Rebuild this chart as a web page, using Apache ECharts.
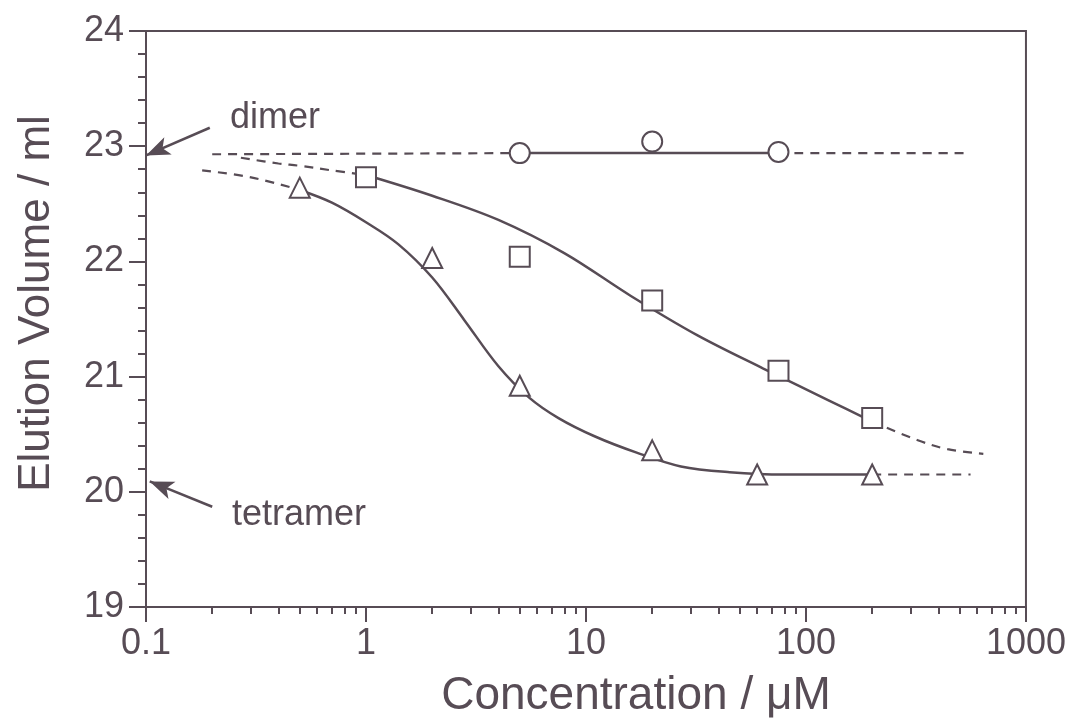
<!DOCTYPE html>
<html>
<head>
<meta charset="utf-8">
<script src="https://cdn.jsdelivr.net/npm/echarts@6/dist/echarts.min.js"></script>
<style>
  html, body { margin: 0; padding: 0; background: #fff; }
  #chart { width: 1069px; height: 724px; }
</style>
</head>
<body>
<div id="chart"></div>
<script>
// measured points (concentration uM, elution volume ml)
const circleX = [5, 20, 75];
const circleY = [22.94, 23.04, 22.95];
const squareX = [1, 5, 20, 75, 200];
const squareY = [22.73, 22.04, 21.66, 21.05, 20.64];
const triangleX = [0.5, 2, 5, 20, 60, 200];
const triangleY = [22.64, 22.03, 20.92, 20.36, 20.15, 20.15];

// fitted curves (solid part)
const circleFitX = [5, 75];
const circleFitY = [22.94, 22.94];
const squareFitX = [1, 2, 4, 8, 16, 32, 64, 128, 200];
const squareFitY = [22.75, 22.57, 22.36, 22.07, 21.70, 21.36, 21.07, 20.79, 20.61];
const triangleFitX = [0.5, 0.7, 1, 1.4, 2, 2.8, 4, 5.5, 7.5, 11, 17, 27, 45, 80, 200];
const triangleFitY = [22.62, 22.51, 22.34, 22.15, 21.86, 21.49, 21.09, 20.82, 20.64, 20.48, 20.34, 20.22, 20.17, 20.15, 20.15];

// extrapolated (dashed) parts
const circleDashLeftX = [0.2, 5];
const circleDashLeftY = [22.93, 22.94];
const circleDashRightX = [75, 550];
const circleDashRightY = [22.94, 22.94];
const squareDashLeftX = [0.27, 0.4, 0.5, 0.7, 1];
const squareDashLeftY = [22.90, 22.85, 22.83, 22.79, 22.75];
const squareDashRightX = [200, 320, 440, 640];
const squareDashRightY = [20.61, 20.45, 20.37, 20.33];
const triangleDashLeftX = [0.18, 0.3, 0.5];
const triangleDashLeftY = [22.79, 22.73, 22.62];
const triangleDashRightX = [200, 560];
const triangleDashRightY = [20.15, 20.15];

// axis ticks
const xMajorTicks = [0.1, 1, 10, 100, 1000];
const xMinorTicks = [];
[0.1, 1, 10, 100].forEach(d => {
  for (let k = 2; k <= 9; k++) xMinorTicks.push(+(d * k).toPrecision(3));
});

const ink = '#574c55';
const font = 'Liberation Sans, Arial, Helvetica, sans-serif';

const pairs = (xs, ys) => xs.map((x, i) => [x, ys[i]]);

const solid = (xs, ys, smooth) => ({
  type: 'line', data: pairs(xs, ys), smooth: smooth ? 0.35 : false,
  showSymbol: false, silent: true, z: 2,
  lineStyle: { color: ink, width: 2.5 }
});
const dashed = (xs, ys) => ({
  type: 'line', data: pairs(xs, ys), smooth: 0.35,
  showSymbol: false, silent: true, z: 2,
  lineStyle: { color: ink, width: 2.2, type: [9, 7] }
});
const points = (xs, ys, symbol) => ({
  type: 'scatter', data: pairs(xs, ys), symbol: symbol, symbolSize: 20, z: 3,
  itemStyle: { color: ink, borderColor: ink, borderWidth: 2, opacity: 1 }
});

const chart = echarts.init(document.getElementById('chart'));

const arrows = {
  type: 'line', data: [], silent: true,
  markLine: {
    silent: true, animation: false,
    symbol: ['none', 'arrow'], symbolSize: [14, 24],
    label: { show: false },
    lineStyle: { color: ink, width: 2.5, type: 'solid' },
    data: [
      [{ coord: [0.195, 23.16] }, { coord: [0.1, 22.92] }],
      [{ coord: [0.2, 19.87] }, { coord: [0.104, 20.09] }]
    ]
  }
};

chart.setOption({
  backgroundColor: '#fff',
  animation: false,
  grid: {
    left: 146, right: 41, top: 31, bottom: 116,
    show: true, borderColor: ink, borderWidth: 2
  },
  xAxis: [{
    type: 'log', logBase: 10, min: 0.1, max: 1000,
    name: 'Concentration / μM', nameLocation: 'middle', nameGap: 66,
    nameTextStyle: { color: ink, fontSize: 46, fontFamily: font, padding: [0, 0, 0, 100] },
    axisLine: { lineStyle: { color: ink, width: 2 } },
    axisTick: { length: 15, lineStyle: { color: ink, width: 2 }, customValues: xMajorTicks },
    axisLabel: {
      color: ink, fontSize: 36, fontFamily: font, margin: 19, customValues: xMajorTicks,
      formatter: v => String(v)
    },
    splitLine: { show: false }
  }, {
    type: 'log', logBase: 10, min: 0.1, max: 1000, position: 'bottom',
    axisLine: { show: false },
    axisTick: { length: 7, lineStyle: { color: ink, width: 2 }, customValues: xMinorTicks },
    axisLabel: { show: false },
    splitLine: { show: false }
  }],
  yAxis: {
    type: 'value', min: 19, max: 24, interval: 1,
    name: 'Elution Volume / ml', nameLocation: 'middle', nameGap: 87,
    nameTextStyle: { color: ink, fontSize: 44, fontFamily: font, padding: [0, 0, 0, 31] },
    axisLine: { show: true, lineStyle: { color: ink, width: 2 } },
    axisTick: { show: true, length: 17, lineStyle: { color: ink, width: 2 } },
    minorTick: { show: true, splitNumber: 5, length: 8, lineStyle: { color: ink, width: 2 } },
    axisLabel: { color: ink, fontSize: 36, fontFamily: font, margin: 22 },
    splitLine: { show: false }
  },
  graphic: [
    { type: 'text', x: 230, y: 118, style: { text: 'dimer', fontSize: 36, fontFamily: font, fill: ink, verticalAlign: 'middle' } },
    { type: 'text', x: 232, y: 515, style: { text: 'tetramer', fontSize: 36, fontFamily: font, fill: ink, verticalAlign: 'middle' } }
  ],
  series: [
    dashed(circleDashLeftX, circleDashLeftY),
    dashed(circleDashRightX, circleDashRightY),
    dashed(squareDashLeftX, squareDashLeftY),
    dashed(squareDashRightX, squareDashRightY),
    dashed(triangleDashLeftX, triangleDashLeftY),
    dashed(triangleDashRightX, triangleDashRightY),
    solid(circleFitX, circleFitY, false),
    solid(squareFitX, squareFitY, true),
    solid(triangleFitX, triangleFitY, true),
    points(circleX, circleY, 'emptyCircle'),
    points(squareX, squareY, 'emptyRect'),
    points(triangleX, triangleY, 'emptyTriangle'),
    arrows
  ]
});
</script>
</body>
</html>
